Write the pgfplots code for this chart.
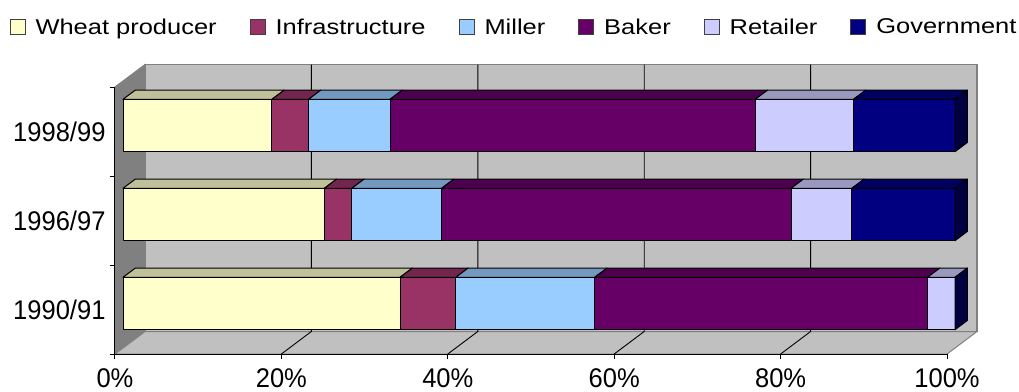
\documentclass[border=0pt]{standalone}
\usepackage{pgfplots}
\pgfplotsset{compat=1.18}
\usepackage{pgfplotstable}
\usepackage{fontspec}
\setmainfont{Liberation Sans}
\newfontfamily\tickfont[FakeStretch=0.945]{Liberation Sans}
\newfontfamily\keyfont[FakeStretch=1.19]{Liberation Sans}

% series colours: front face and the darker top face
\definecolor{wheat}{HTML}{FFFFCC}
\definecolor{wheattop}{HTML}{C0C09A}
\definecolor{infra}{HTML}{993366}
\definecolor{infratop}{HTML}{73264D}
\definecolor{miller}{HTML}{99CCFF}
\definecolor{millertop}{HTML}{7399BF}
\definecolor{baker}{HTML}{660066}
\definecolor{bakertop}{HTML}{4D004D}
\definecolor{retail}{HTML}{CCCCFF}
\definecolor{retailtop}{HTML}{9999BF}
\definecolor{govt}{HTML}{000080}
\definecolor{govttop}{HTML}{000060}
\definecolor{govtside}{HTML}{000040}
\definecolor{wall}{HTML}{C0C0C0}
\definecolor{sidewall}{HTML}{808080}

% shares of the bread price (per cent); pos = place on the category axis
\pgfplotstableread{
pos wheat infra miller baker retail govt
0   33.3  6.7   16.7   40.0  3.3    0.0
1   24.2  3.3   10.8   42.0  7.3    12.4
2   17.9  4.4   9.8    43.9  11.8   12.2
}\shares

% depth of the bars in data units (x in per cent, y in category steps)
\def\OX{0.962}\def\OY{0.0674}  % front face of the bars behind the axis plane
\def\BX{1.478}\def\BY{0.1034}  % depth of a bar
\def\HH{0.2944}                % half height of a bar

\pgfplotsset{face/.style={draw=black, line width=1bp, line join=round, forget plot}}

% one segment of a stacked 3-D bar: front face and top face
\newcommand\barseg[2]{% #1 row, #2 column (also the colour name)
  \pgfplotstablegetelem{#1}{#2}\of\shares
  \let\val\pgfplotsretval
  \pgfmathsetmacro\xa{\acc+\OX}%
  \pgfmathsetmacro\xb{\acc+\val+\OX}%
  \pgfmathsetmacro\xat{\xa+\BX}%
  \pgfmathsetmacro\xbt{\xb+\BX}%
  \pgfmathsetmacro\yb{#1+\OY-\HH}%
  \pgfmathsetmacro\yt{#1+\OY+\HH}%
  \pgfmathsetmacro\ytt{\yt+\BY}%
  \ifdim\val pt>0pt
    \edef\temp{%
      \noexpand\addplot[face, fill=#2] coordinates {(\xa,\yb) (\xb,\yb) (\xb,\yt) (\xa,\yt)} -- cycle;
      \noexpand\addplot[face, fill=#2top] coordinates {(\xa,\yt) (\xb,\yt) (\xbt,\ytt) (\xat,\ytt)} -- cycle;}%
    \temp
  \fi
  \pgfmathsetmacro\acc{\acc+\val}%
}
% right-hand end face of a bar
\newcommand\barend[1]{%
  \pgfmathsetmacro\xb{\acc+\OX}%
  \pgfmathsetmacro\xbt{\xb+\BX}%
  \pgfmathsetmacro\yb{#1+\OY-\HH}%
  \pgfmathsetmacro\ybt{\yb+\BY}%
  \pgfmathsetmacro\yt{#1+\OY+\HH}%
  \pgfmathsetmacro\ytt{\yt+\BY}%
  \edef\temp{%
    \noexpand\addplot[face, fill=govtside] coordinates {(\xb,\yb) (\xbt,\ybt) (\xbt,\ytt) (\xb,\yt)} -- cycle;}%
  \temp
}
\newcommand\barrow[1]{%
  \def\acc{0}%
  \barseg{#1}{wheat}\barseg{#1}{infra}\barseg{#1}{miller}%
  \barseg{#1}{baker}\barseg{#1}{retail}\barseg{#1}{govt}%
  \barend{#1}%
}

\begin{document}
\begin{tikzpicture}
\path[use as bounding box] (-115bp,-38bp) rectangle (904bp,354bp);
\begin{axis}[
  scale only axis, width=832bp, height=267bp,
  xmin=0, xmax=100, ymin=-0.5, ymax=2.5,
  clip=false, axis on top,
  axis x line*=bottom, axis y line*=left,
  axis line style={black, line width=1bp},
  tick style={black, line width=1bp},
  tick align=outside, major tick length=5bp, minor tick length=5bp,
  xtick={0,20,40,60,80,100},
  xticklabels={0\%,20\%,40\%,60\%,80\%,100\%},
  ytick={0,1,2}, yticklabels={1990/91,1996/97,1998/99},
  major y tick style={draw=none},
  minor ytick={-0.5,0.5,1.5,2.5},
  tick label style={font=\tickfont\fontsize{27bp}{30bp}\selectfont},
  xticklabel style={yshift=-6bp},
  yticklabel style={xshift=-1bp},
  legend columns=6,
  legend image code/.code={\draw[#1, draw=black!75, line width=0.9bp] (0bp,-7.5bp) rectangle (15bp,7.5bp);},
  legend style={draw=none, fill=none, at={(0.4784,1.2247)}, anchor=center,
    font=\keyfont\fontsize{21.4bp}{25bp}\selectfont, inner sep=0pt,
    nodes={inner sep=0pt},
    /tikz/every odd column/.append style={column sep=10bp},
    /tikz/every even column/.append style={column sep=33bp}},
]
% walls and floor
\addplot[fill=sidewall, draw=sidewall, line width=1bp, forget plot] coordinates {(0,-0.5) (3.606,-0.2472) (3.606,2.7528) (0,2.5)} -- cycle;
\addplot[fill=wall, draw=sidewall, line width=1.5bp, forget plot] coordinates {(3.606,-0.2472) (103.606,-0.2472) (103.606,2.7528) (3.606,2.7528)} -- cycle;
\addplot[fill=wall, draw=sidewall, line width=1bp, forget plot] coordinates {(0,-0.5) (100,-0.5) (103.606,-0.2472) (3.606,-0.2472)} -- cycle;
% gridlines on the back wall and the floor
\addplot[black, line width=0.9bp, forget plot] coordinates {(20,-0.5) (23.606,-0.2472) (23.606,2.7528)};
\addplot[black, line width=0.9bp, forget plot] coordinates {(40,-0.5) (43.606,-0.2472) (43.606,2.7528)};
\addplot[black, line width=0.9bp, forget plot] coordinates {(60,-0.5) (63.606,-0.2472) (63.606,2.7528)};
\addplot[black, line width=0.9bp, forget plot] coordinates {(80,-0.5) (83.606,-0.2472) (83.606,2.7528)};
% stacked bars
\barrow{0}
\barrow{1}
\barrow{2}
% legend
\addlegendimage{fill=wheat}\addlegendentry{Wheat producer}
\addlegendimage{fill=infra}\addlegendentry{Infrastructure}
\addlegendimage{fill=miller}\addlegendentry{Miller}
\addlegendimage{fill=baker}\addlegendentry{Baker}
\addlegendimage{fill=retail}\addlegendentry{Retailer}
\addlegendimage{fill=govt}\addlegendentry{Government}
\end{axis}
\end{tikzpicture}
\end{document}
